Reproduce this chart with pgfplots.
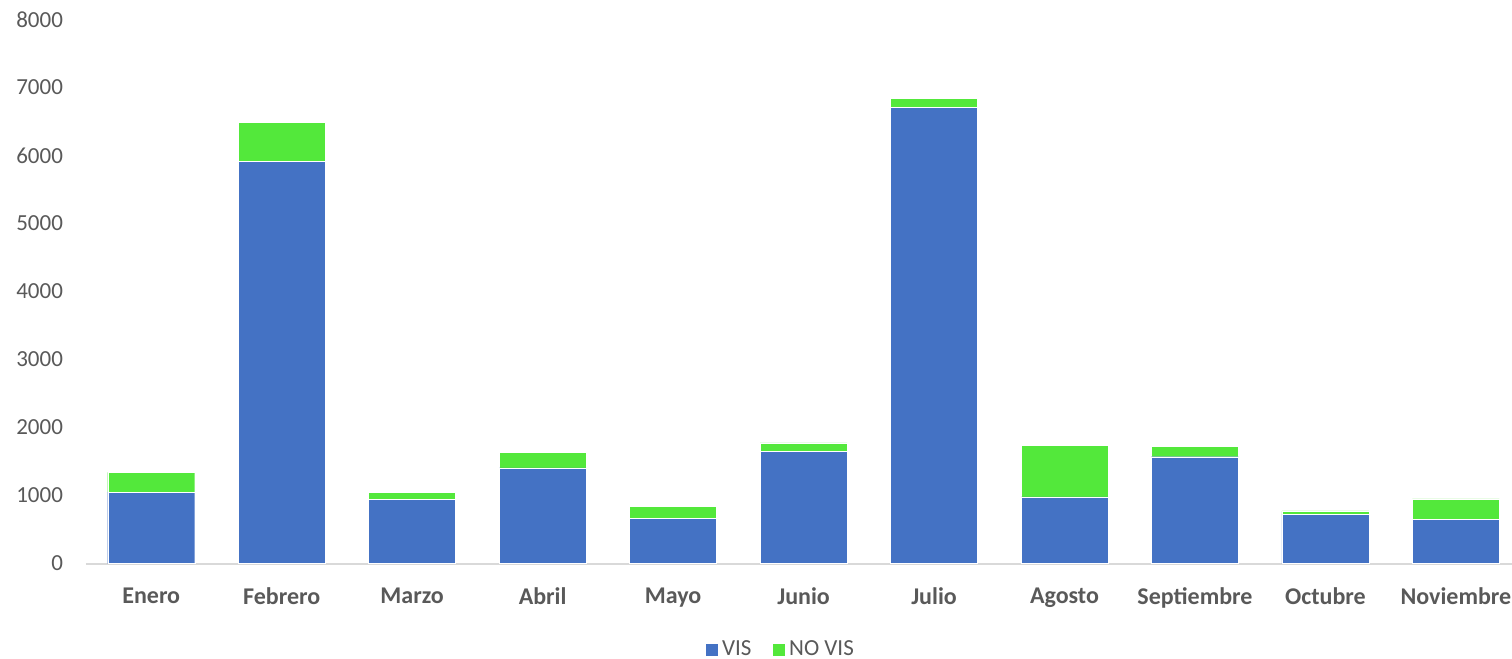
\documentclass[border=0pt]{standalone}
\usepackage{fontspec}
\setmainfont{Carlito}
\usepackage{pgfplots}
\pgfplotsset{compat=1.18}
\definecolor{visblue}{HTML}{4472C4}
\definecolor{novisgreen}{HTML}{53E83B}
\definecolor{txtgray}{HTML}{595959}
\begin{document}
\begin{tikzpicture}
\begin{axis}[
    scale only axis,
    width=713pt, height=272pt,
    ybar stacked,
    bar width=43.5pt,
    xmin=-0.5, xmax=10.43,
    ymin=0, ymax=8000,
    ytick={0,1000,...,8000},
    xtick=data,
    xticklabels={Enero,Febrero,Marzo,Abril,Mayo,Junio,Julio,Agosto,Septiembre,Octubre,Noviembre},
    axis x line*=bottom,
    axis y line*=left,
    y axis line style={draw=none},
    x axis line style={draw=black!15, line width=1pt},
    major tick length=0pt,
    /pgf/number format/assume math mode=true,
    /pgf/number format/1000 sep={},
    yticklabel style={font=\fontsize{11.5}{13}\selectfont, text=txtgray, xshift=-8pt},
    xticklabel style={font=\fontsize{12}{14}\selectfont\bfseries, text=txtgray, yshift=-8.5pt},
    legend style={at={(0.4875,-0.158)}, anchor=center, draw=none,
        legend columns=2, font=\fontsize{11.5}{13}\selectfont, text=txtgray,
        /tikz/every even column/.append style={column sep=8pt}},
    legend image code/.code={\fill[#1] (0pt,-3.3pt) rectangle (6.6pt,3.3pt);},
]
\addplot[fill=visblue, draw=white, line width=0.2pt] coordinates {
    (0,1050) (1,5910) (2,940) (3,1405) (4,660) (5,1645) (6,6710) (7,980) (8,1570) (9,725) (10,650)
};
\addlegendentry{VIS}
\addplot[fill=novisgreen, draw=white, line width=0.2pt] coordinates {
    (0,290) (1,580) (2,110) (3,230) (4,185) (5,130) (6,130) (7,760) (8,150) (9,50) (10,300)
};
\addlegendentry{NO VIS}
\coordinate (o) at (rel axis cs:0,0);
\end{axis}
\pgfresetboundingbox
\path[use as bounding box] (o) ++(-43pt,-47.75pt) rectangle ++(756pt,329.5pt);
\end{tikzpicture}
\end{document}
